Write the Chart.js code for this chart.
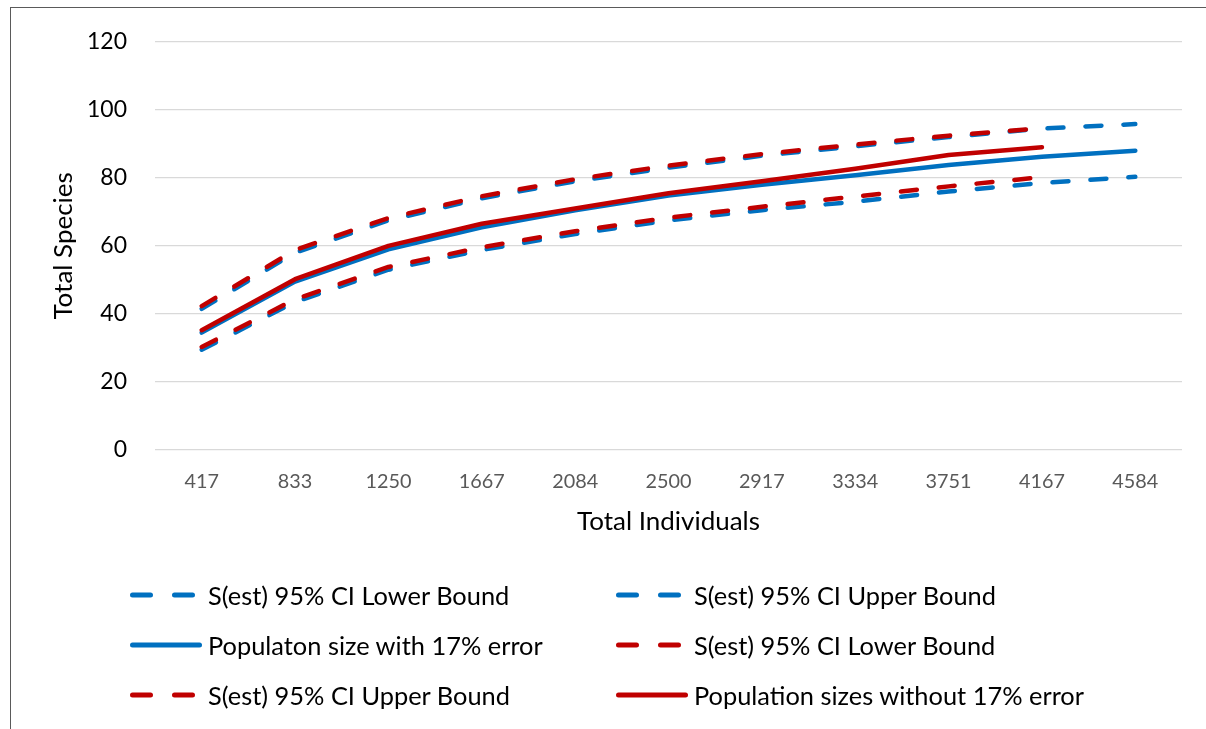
<!DOCTYPE html>
<html><head><meta charset="utf-8">
<script src="https://cdn.jsdelivr.net/npm/chart.js@4"></script>
<style>
html,body{margin:0;padding:0;background:#fff;}
#wrap{position:relative;width:1206px;height:729px;overflow:hidden;background:#fff;}
#frame{position:absolute;left:10px;top:7px;width:1400px;height:900px;border-left:1.5px solid #5a5a5a;border-top:1.5px solid #5a5a5a;}
#c{position:absolute;left:0;top:0;}
#legend{position:absolute;left:0;top:0;width:1206px;height:729px;}
.item{position:absolute;height:40px;display:flex;align-items:center;white-space:nowrap;color:#000;}
.item svg{flex:none;}
</style></head>
<body>
<div id="wrap"><div id="frame"></div><canvas id="c" width="1206" height="729"></canvas><div id="legend"></div></div>
<script>
// ---- data ----
const totalIndividuals = ['417','833','1250','1667','2084','2500','2917','3334','3751','4167','4584'];
const withErrLower = [29.5, 43.5, 53, 58.8, 63.5, 67.5, 70.5, 73, 76, 78.5, 80.3];
const withErrUpper = [41.5, 58, 67.5, 74, 79, 83, 86.5, 89.3, 92, 94.5, 95.8];
const withErrEst   = [34.5, 49.5, 59, 65.5, 70.5, 74.8, 78, 80.8, 83.8, 86.2, 88];
const noErrLower   = [30.3, 44.3, 53.8, 59.6, 64.3, 68.3, 71.5, 74.5, 77.5, 80.2, null];
const noErrUpper   = [42.3, 58.8, 68.2, 74.6, 79.6, 83.6, 87, 89.8, 92.4, 94.6, null];
const noErrEst     = [35.2, 50.2, 60, 66.5, 71, 75.5, 79, 82.7, 86.7, 89, null];
const seriesNames = ['S(est) 95% CI Lower Bound','S(est) 95% CI Upper Bound','Populaton size with 17% error',
                     'S(est) 95% CI Lower Bound','S(est) 95% CI Upper Bound','Population sizes without 17% error'];
const yMin = 0, yMax = 120, yStep = 20;

// ---- styling ----
const BLUE = '#0070C0', RED = '#C00000';
const FAMILY = "Lato, 'Open Sans', sans-serif";
function fitSize(text, target){
  const ctx = document.createElement('canvas').getContext('2d');
  ctx.font = '100px ' + FAMILY;
  return 100 * target / ctx.measureText(text).width;
}
const legendSize = fitSize('S(est) 95% CI Lower Bound', 302);
const yTickSize = fitSize('120', 40);
const xTickSize = fitSize('1250', 46);
const titleSize = fitSize('Total Individuals', 183);

const DASH = [16, 22];
function ds(label, data, color, dashed, order){
  return {label, data, borderColor: color, backgroundColor: color, borderWidth: 4.5,
    borderDash: dashed ? DASH : [], borderCapStyle: 'round', borderJoinStyle: 'round',
    pointRadius: 0, pointHoverRadius: 0, tension: 0, fill: false, order, spanGaps: false, _dashed: dashed};
}
const datasets = [
  ds(seriesNames[0], withErrLower, BLUE, true, 2),
  ds(seriesNames[1], withErrUpper, BLUE, true, 2),
  ds(seriesNames[2], withErrEst, BLUE, false, 2),
  ds(seriesNames[3], noErrLower, RED, true, 1),
  ds(seriesNames[4], noErrUpper, RED, true, 1),
  ds(seriesNames[5], noErrEst, RED, false, 1)
];

const chart = new Chart(document.getElementById('c'), {
  type: 'line',
  data: {labels: totalIndividuals, datasets},
  options: {
    responsive: false, animation: false, events: [],
    layout: {padding: {left: 48, top: 37, right: 24, bottom: 192}},
    plugins: {legend: {display: false}, tooltip: {enabled: false}},
    scales: {
      x: {
        type: 'category', offset: true,
        grid: {display: false, drawTicks: false}, border: {display: false},
        ticks: {color: '#595959', font: {family: FAMILY, size: xTickSize}, padding: 20, maxRotation: 0, autoSkip: false},
        title: {display: true, text: 'Total Individuals', color: '#000', font: {family: FAMILY, size: titleSize}, padding: {top: 4, bottom: 0}},
        afterFit: s => { s.height = 87; }
      },
      y: {
        min: yMin, max: yMax,
        grid: {color: '#d9d9d9', lineWidth: 1.3, drawTicks: false}, border: {display: false},
        ticks: {stepSize: yStep, color: '#000', font: {family: FAMILY, size: yTickSize}, padding: 28},
        title: {display: true, text: 'Total Species', color: '#000', font: {family: FAMILY, size: titleSize}, padding: {top: 0, bottom: 0}},
        afterFit: s => { s.width = 107; }
      }
    }
  }
});

// ---- legend (HTML, built from the datasets) ----
const leg = document.getElementById('legend');
const colX = [130, 616], rowY = [595, 645, 695];
datasets.forEach((d, i) => {
  const row = Math.floor(i / 2), col = i % 2;
  const el = document.createElement('div');
  el.className = 'item';
  el.style.left = colX[col] + 'px';
  el.style.top = (rowY[row] - 20) + 'px';
  el.style.font = legendSize + 'px ' + FAMILY;
  const line = d._dashed
    ? `<line x1="2.5" y1="5" x2="62.5" y2="5" stroke="${d.borderColor}" stroke-width="5" stroke-linecap="round" stroke-dasharray="18 24"/>`
    : `<line x1="2.5" y1="5" x2="69.5" y2="5" stroke="${d.borderColor}" stroke-width="5" stroke-linecap="round"/>`;
  el.innerHTML = `<svg width="72" height="10">${line}</svg><span style="margin-left:6px">${d.label}</span>`;
  leg.appendChild(el);
});
</script>
</body></html>
